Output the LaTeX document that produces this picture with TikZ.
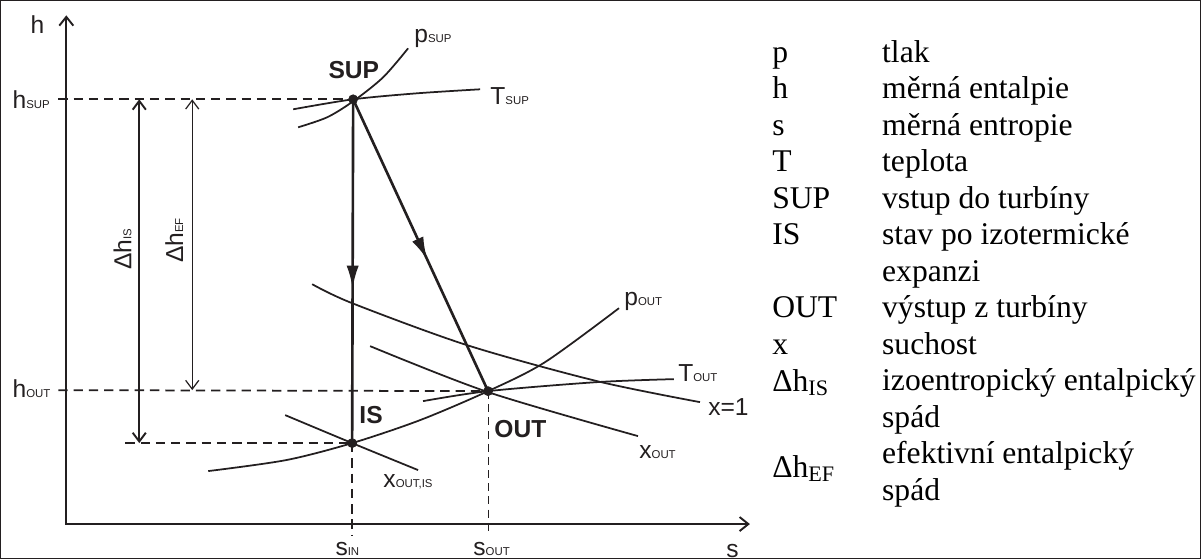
\documentclass[tikz,border=0pt]{standalone}
\usepackage{fontspec}
\setmainfont{Liberation Serif}
\newfontfamily\arialf{Liberation Sans}
\usetikzlibrary{arrows.meta,decorations.markings}
\definecolor{ink}{RGB}{35,31,32}
\newcommand{\lsub}[1]{{\fontsize{6.5}{7}\selectfont #1}}
\begin{document}
\begin{tikzpicture}[x=0.02cm,y=-0.02cm,
  every path/.style={draw=ink},
  lbl/.style={font=\arialf\fontsize{14}{16}\selectfont, inner sep=0, anchor=base west, text=ink},
  blbl/.style={font=\arialf\bfseries\fontsize{14}{16}\selectfont, inner sep=0, anchor=base west, text=ink},
  leg/.style={font=\fontsize{18}{20}\selectfont, inner sep=0, anchor=base west, text=black},
  axis/.style={line width=1.1pt, {Straight Barb[length=5pt,width=8pt,line width=1.1pt]}-{Straight Barb[length=5pt,width=8pt,line width=1.1pt]}},
  curve/.style={line width=1pt},
  process/.style={line width=1.5pt, postaction=decorate,
    decoration={markings, mark=at position 0.55 with {\arrow[ink]{Latex[length=13pt,width=7pt]}}}},
  dimis/.style={line width=1.1pt, {Straight Barb[length=5pt,width=7.5pt]}-{Straight Barb[length=5pt,width=7.5pt]}},
  dimef/.style={line width=0.7pt, {Straight Barb[length=5pt,width=7.5pt]}-{Straight Barb[length=5pt,width=7.5pt]}},
  hdash/.style={line width=1pt, dash pattern=on 5.3pt off 3.4pt},
  vdashthin/.style={line width=0.6pt, dash pattern=on 4.5pt off 3pt},
  dot/.style={fill=ink}
]
\useasboundingbox (0,0) rectangle (1201,558);

% key points
\coordinate (SUP) at (353,99);
\coordinate (IS) at (352,443);
\coordinate (OUT) at (488,391);
\coordinate (O) at (66,524);
\coordinate (ytip) at (66,15);
\coordinate (xtip) at (750,524);
\coordinate (hsupL) at (58,99);
\coordinate (houtL) at (58,390);
\coordinate (hisL) at (125,443);
\coordinate (sinB) at (352,535);
\coordinate (soutB) at (488,535);
\coordinate (dIStop) at (139,99);
\coordinate (dISbot) at (139,443);
\coordinate (dEFtop) at (192,99);
\coordinate (dEFbot) at (192,390);

% axes
\draw[axis] (ytip) |- (xtip);

% dashed guides
\draw[hdash] (hsupL) -- (SUP);
\draw[hdash] (houtL) -- (OUT);
\draw[hdash] (hisL) -- (IS);
\draw[hdash] (IS) -- (sinB);
\draw[vdashthin] (OUT) -- (soutB);

% dimension arrows
\draw[dimis] (dIStop) -- (dISbot);
\draw[dimef] (dEFtop) -- (dEFbot);

% isolines
\draw[curve] plot[smooth] coordinates {(298,127) (327,117) (353,101) (383,77) (408,48)};
\draw[curve] plot[smooth] coordinates {(293,109) (353,99) (417,93) (480,89)};
\draw[curve] plot[smooth] coordinates {(312,284) (352,303) (467,345) (597,381) (700,402)};
\draw[curve] plot[smooth] coordinates {(370,346) (488,392) (638,436)};
\draw[curve] plot[smooth] coordinates {(423,401) (488,391) (597,382) (674,379)};
\draw[curve] plot[smooth] coordinates {(208,471) (286,460) (352,443) (420,420) (488,391) (545,362) (619,308)};
\draw[curve] plot[smooth] coordinates {(285,415) (352,443) (418,470)};

% process
\draw[process] (SUP) -- (IS);
\draw[process] (SUP) -- (OUT);

% state points
\fill[dot] (SUP) circle[radius=0.09cm];
\fill[dot] (IS) circle[radius=0.09cm];
\fill[dot] (OUT) circle[radius=0.09cm];

% labels
\node[lbl] (lh) at (30,33) {h};
\node[lbl] (ls) at (726,557) {s};
\node[lbl] (lhsup) at (12,108) {h\lsub{SUP}};
\node[lbl] (lhout) at (12,397) {h\lsub{OUT}};
\node[lbl] (lsin) at (335,555) {s\lsub{IN}};
\node[lbl] (lsout) at (473,555) {s\lsub{OUT}};
\node[lbl] (lpsup) at (414,42) {p\lsub{SUP}};
\node[lbl] (ltsup) at (490,104) {T\lsub{SUP}};
\node[lbl] (lpout) at (624,305) {p\lsub{OUT}};
\node[lbl] (ltout) at (678,381) {T\lsub{OUT}};
\node[lbl] (lx1) at (708,415) {x=1};
\node[lbl] (lxout) at (639,458) {x\lsub{OUT}};
\node[lbl] (lxoutis) at (383,487) {x\lsub{OUT,IS}};
\node[blbl] (lSUP) at (328,78) {SUP};
\node[blbl] (lIS) at (359,423) {IS};
\node[blbl] (lOUT) at (494,437) {OUT};
\node[lbl, rotate=90] (ldis) at (131,270) {Δh\lsub{IS}};
\node[lbl, rotate=90] (ldef) at (183,263) {Δh\lsub{EF}};

% legend
\node[leg] (k1) at (772,62) {p};
\node[leg] (v1) at (882,62) {tlak};
\node[leg] (k2) at (772,98.5) {h};
\node[leg] (v2) at (882,98.5) {měrná entalpie};
\node[leg] (k3) at (772,135) {s};
\node[leg] (v3) at (882,135) {měrná entropie};
\node[leg] (k4) at (772,171.5) {T};
\node[leg] (v4) at (882,171.5) {teplota};
\node[leg] (k5) at (772,208) {SUP};
\node[leg] (v5) at (882,208) {vstup do turbíny};
\node[leg] (k6) at (772,244.5) {IS};
\node[leg] (v6) at (882,244.5) {stav po izotermické};
\node[leg] (v6b) at (882,281) {expanzi};
\node[leg] (k7) at (772,317.5) {OUT};
\node[leg] (v7) at (882,317.5) {výstup z turbíny};
\node[leg] (k8) at (772,354) {x};
\node[leg] (v8) at (882,354) {suchost};
\node[leg] (k9) at (772,391) {Δh\textsubscript{IS}};
\node[leg] (v9) at (882,390.5) {izoentropický entalpický};
\node[leg] (v9b) at (882,427) {spád};
\node[leg] (k10) at (772,477) {Δh\textsubscript{EF}};
\node[leg] (v10) at (882,463.5) {efektivní entalpický};
\node[leg] (v10b) at (882,500) {spád};
\end{tikzpicture}
\end{document}
